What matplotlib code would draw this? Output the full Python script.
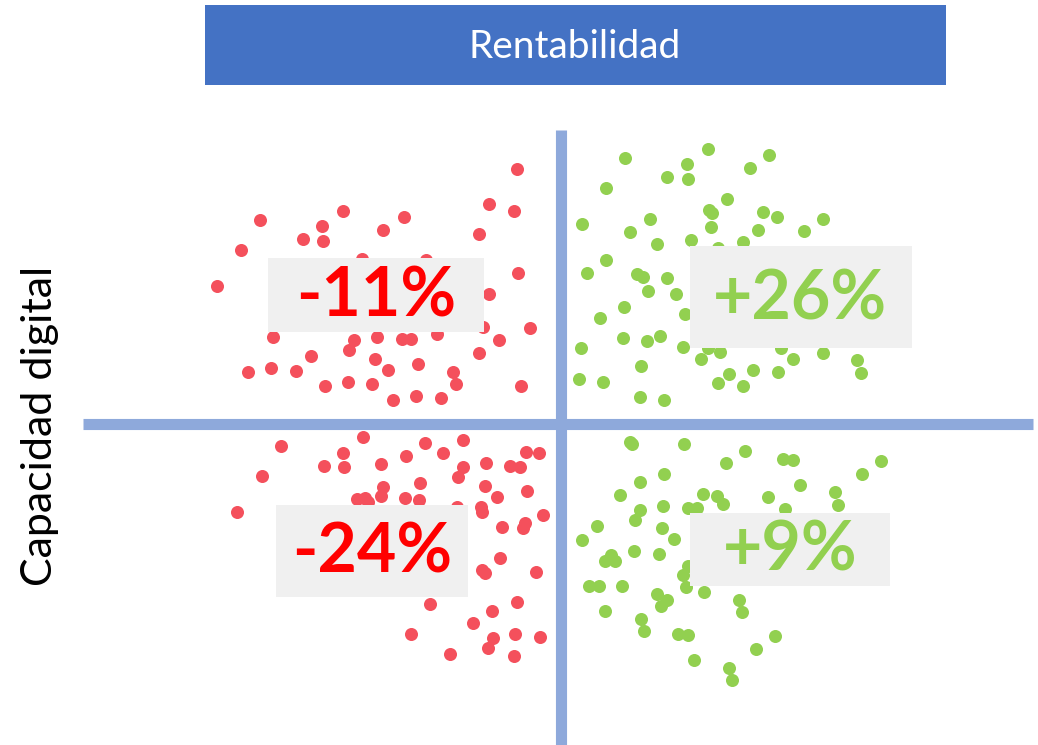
import matplotlib.pyplot as plt
from matplotlib.patches import Rectangle

# point positions, origin where the two axes cross (x right, y up)
red_top_x = [-301, -218, -239, -258, -238, -320, -199, -344, -288, -207, -212, -184, -250, -313,
             -290, -265, -236, -213, -189, -186, -178, -44, -72, -47, -157, -82, -135, -43, -72,
             -78, -31, -62, -82, -159, -150, -124, -173, -143, -108, -105, -40, -168, -145, -120]
red_top_y = [204, 213, 198, 185, 183, 174, 165, 138, 87, 84, 74, 87, 68, 52,
             56, 53, 38, 42, 40, 65, 194, 255, 220, 213, 207, 190, 164, 151, 130,
             97, 96, 84, 71, 85, 85, 90, 54, 60, 52, 40, 38, 24, 28, 26]

green_top_x = [64, 147, 126, 106, 127, 45, 166, 148, 151, 21, 89, 69, 150, 96, 130, 157, 45, 26,
               76, 82, 106, 87, 115, 63, 39, 124, 62, 86, 99, 20, 122, 147, 159, 140, 80, 18,
               42, 157, 168, 79, 103, 208, 189, 202, 216, 262, 197, 243, 182, 220, 232, 262,
               296, 300, 192, 217, 182, 196]
green_top_y = [266, 275, 260, 247, 245, 236, 225, 214, 211, 200, 205, 192, 197, 180, 184, 176, 164, 151,
               150, 147, 146, 133, 130, 117, 106, 110, 86, 83, 88, 76, 77, 76, 72, 65, 58, 45,
               42, 41, 50, 27, 24, 269, 256, 212, 207, 205, 194, 193, 182, 76, 65, 71,
               64, 51, 54, 52, 38, 166]

red_bot_x = [-198, -280, -218, -237, -217, -180, -299, -178, -180, -204, -196, -193, -324, -155,
             -136, -118, -98, -98, -103, -75, -51, -41, -35, -22, -141, -156, -142, -104, -76,
             -64, -34, -80, -79, -18, -59, -36, -38, -61, -79, -76, -25, -131, -44, -69, -88,
             -150, -68, -73, -46, -21, -111, -47]
red_bot_y = [-13, -22, -29, -42, -43, -40, -52, -63, -72, -75, -74, -78, -88, -32,
             -19, -29, -16, -43, -53, -39, -42, -43, -28, -29, -59, -74, -76, -83, -62,
             -73, -67, -83, -88, -91, -103, -99, -104, -134, -146, -149, -148, -180, -178, -187, -199,
             -210, -214, -224, -210, -213, -230, -232]

green_bot_x = [69, 71, 123, 165, 103, 79, 59, 142, 156, 162, 79, 74, 102, 127, 136, 36, 101, 113,
               21, 50, 44, 54, 73, 98, 127, 122, 125, 143, 28, 38, 61, 96, 106, 100, 44, 80,
               83, 117, 127, 133, 168, 171, 184, 222, 232, 320, 301, 239, 207, 274, 277, 224,
               178, 181, 214, 195]
green_bot_y = [-18, -20, -20, -39, -50, -58, -71, -70, -72, -80, -86, -96, -82, -84, -84, -102, -104, -115,
               -116, -131, -137, -137, -127, -130, -142, -151, -163, -168, -162, -162, -162, -170, -176, -182, -187, -195,
               -207, -210, -211, -236, -244, -256, -27, -35, -36, -37, -50, -61, -73, -68, -81, -85,
               -176, -188, -212, -225]

labels = ['-11%', '+26%', '-24%', '+9%']

RED = '#F4505C'
GREEN = '#92D050'
AXIS = '#8EA9DB'

plt.rcParams['font.family'] = ['Lato', 'DejaVu Sans']

fig = plt.figure(figsize=(10.38, 7.45), dpi=100)
ax = fig.add_axes([0, 0, 1, 1])
ax.set_xlim(-561, 477)
ax.set_ylim(-321, 424)
ax.axis('off')

ms = 88
ax.scatter(red_top_x, red_top_y, s=ms, color=RED, lw=0, zorder=2)
ax.scatter(red_bot_x, red_bot_y, s=ms, color=RED, lw=0, zorder=2)
ax.scatter(green_top_x, green_top_y, s=ms, color=GREEN, lw=0, zorder=2)
ax.scatter(green_bot_x, green_bot_y, s=ms, color=GREEN, lw=0, zorder=2)

# quadrant axes
ax.plot([0, 0], [294, -321], color=AXIS, lw=8, solid_capstyle='butt', zorder=3)
ax.plot([-478, 472], [0, 0], color=AXIS, lw=8, solid_capstyle='butt', zorder=3)

# label boxes: (x0, x1, y0, y1), text centre, colour
boxes = [((-293, -77, 92, 166), (-185, 127), 'red'),
         ((129, 351, 76, 178), (239, 124), GREEN),
         ((-285, -93, -173, -81), (-189, -129), 'red'),
         ((129, 329, -162, -89), (229, -127), GREEN)]
for lab, (b, c, col) in zip(labels, boxes):
    ax.add_patch(Rectangle((b[0], b[2]), b[1] - b[0], b[3] - b[2], color='#F0F0F0', lw=0, zorder=4))
    ax.text(c[0], c[1], lab, ha='center', va='center', fontsize=49, fontweight='bold',
            color=col, zorder=5)

# header bar
fig.patches.append(Rectangle((205 / 1038, 1 - 85 / 745), 741 / 1038, 80 / 745,
                             transform=fig.transFigure, color='#4472C4', lw=0))
fig.text(575 / 1038, 1 - 47 / 745, 'Rentabilidad', ha='center', va='center',
         fontsize=28, color='white')

fig.text(40 / 1038, 1 - 426 / 745, 'Capacidad digital', ha='center', va='center',
         rotation=90, fontsize=31, color='black')

fig.savefig('out.png', dpi=100)
